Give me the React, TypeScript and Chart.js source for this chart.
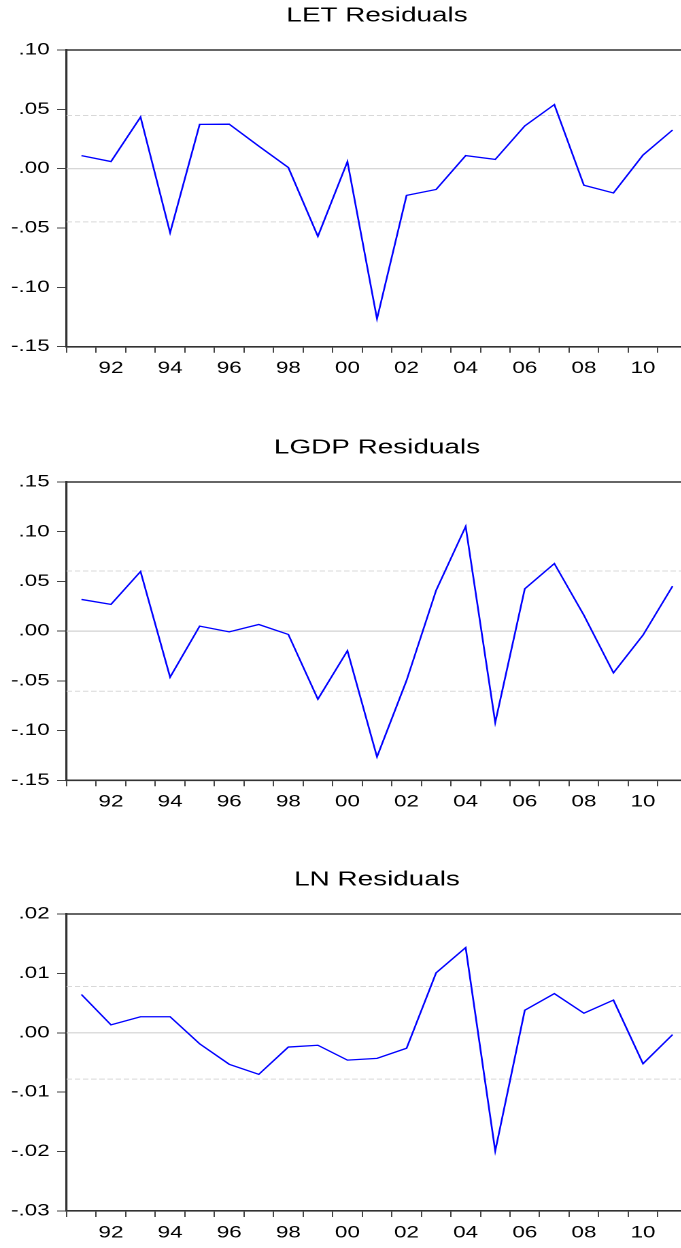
import React, { useEffect, useRef } from 'react';
import { Chart, registerables } from 'chart.js';

Chart.register(...registerables);

// ---------- data ----------
const years = [
  '1991', '1992', '1993', '1994', '1995', '1996', '1997', '1998', '1999', '2000',
  '2001', '2002', '2003', '2004', '2005', '2006', '2007', '2008', '2009', '2010', '2011',
];
const xTickLabels = [
  '', '92', '', '94', '', '96', '', '98', '', '00',
  '', '02', '', '04', '', '06', '', '08', '', '10', '',
];

const letResiduals = [
  0.011, 0.006, 0.0435, -0.054, 0.0373, 0.0375, 0.019, 0.001, -0.057, 0.006,
  -0.1265, -0.0225, -0.0175, 0.011, 0.0078, 0.036, 0.054, -0.014, -0.0205, 0.0115, 0.0326,
];
const lgdpResiduals = [
  0.0319, 0.0269, 0.06, -0.0463, 0.005, -0.0007, 0.0067, -0.0033, -0.0684, -0.0197,
  -0.1264, -0.0496, 0.041, 0.1053, -0.0919, 0.0426, 0.068, 0.016, -0.0419, -0.004, 0.0453,
];
const lnResiduals = [
  0.00644, 0.00134, 0.0027, 0.0027, -0.00185, -0.0053, -0.007, -0.0024, -0.0021, -0.0046,
  -0.0043, -0.0026, 0.0101, 0.01434, -0.0199, 0.0038, 0.0066, 0.0033, 0.0055, -0.0052, -0.0003,
];

const letYTicks = [-0.15, -0.1, -0.05, 0, 0.05, 0.1];
const lgdpYTicks = [-0.15, -0.1, -0.05, 0, 0.05, 0.1, 0.15];
const lnYTicks = [-0.03, -0.02, -0.01, 0, 0.01, 0.02];

// +/- one standard-error reference lines
const letBand = 0.0448;
const lgdpBand = 0.0605;
const lnBand = 0.0078;

const titles = ['LET Residuals', 'LGDP Residuals', 'LN Residuals'];

// ---------- layout ----------
const SX = 1.36; // horizontal stretch of the original picture
const CW = 510; // logical canvas width
const CH = 390; // logical canvas height
const LEFT = 49; // plot left (logical)
const RIGHT = 505.4; // plot right (logical)
const TOP_PAD = 50;
const XAXIS_H = 40;
const FONT = '"Liberation Sans", Arial, Helvetica, sans-serif';

const fmt = (v: number) => {
  if (Math.abs(v) < 1e-9) return '.00';
  const s = Number(v).toFixed(2);
  return s.replace('0.', '.');
};

type PanelProps = {
  top: number;
  plotH: number;
  title: string;
  values: number[];
  yTicks: number[];
  band: number;
};

function Panel({ top, plotH, title, values, yTicks, band }: PanelProps) {
  const ref = useRef<HTMLCanvasElement | null>(null);

  useEffect(() => {
    if (!ref.current) return;
    const min = yTicks[0];
    const max = yTicks[yTicks.length - 1];
    const step = yTicks[1] - yTicks[0];

    const decor = {
      id: 'decor',
      beforeDatasetsDraw(chart: any) {
        const { ctx, chartArea } = chart;
        const ys = chart.scales.y;
        ctx.save();
        // zero line
        ctx.strokeStyle = '#d2d2d2';
        ctx.lineWidth = 1.2;
        const y0 = ys.getPixelForValue(0);
        ctx.beginPath();
        ctx.moveTo(chartArea.left, y0);
        ctx.lineTo(chartArea.right, y0);
        ctx.stroke();
        // band lines
        ctx.strokeStyle = '#d8d8d8';
        ctx.lineWidth = 1;
        ctx.setLineDash([4, 2]);
        [band, -band].forEach((b) => {
          const y = ys.getPixelForValue(b);
          ctx.beginPath();
          ctx.moveTo(chartArea.left, y);
          ctx.lineTo(chartArea.right, y);
          ctx.stroke();
        });
        ctx.restore();
      },
      afterDraw(chart: any) {
        const { ctx, chartArea } = chart;
        ctx.save();
        ctx.strokeStyle = '#333';
        ctx.lineWidth = 1.6;
        ctx.beginPath();
        ctx.moveTo(chartArea.left, chartArea.top);
        ctx.lineTo(chartArea.right, chartArea.top);
        ctx.lineTo(chartArea.right, chartArea.bottom);
        ctx.stroke();
        ctx.fillStyle = '#000';
        ctx.font = `20.5px ${FONT}`;
        ctx.textAlign = 'center';
        ctx.textBaseline = 'alphabetic';
        ctx.fillText(title, (chartArea.left + chartArea.right) / 2, chartArea.top - 28.5);
        ctx.restore();
      },
    };

    const chart = new Chart(ref.current, {
      type: 'line',
      data: {
        labels: years,
        datasets: [
          {
            data: values,
            borderColor: '#0000ff',
            borderWidth: 1.3,
            pointRadius: 0,
            tension: 0,
            fill: false,
          },
        ],
      },
      options: {
        animation: false,
        responsive: false,
        devicePixelRatio: 2,
        layout: {
          padding: {
            top: TOP_PAD,
            left: 0,
            right: CW - RIGHT,
            bottom: CH - TOP_PAD - XAXIS_H - plotH,
          },
        },
        plugins: {
          legend: { display: false },
          tooltip: { enabled: false },
          title: { display: false },
        },
        scales: {
          x: {
            type: 'category',
            offset: true,
            grid: {
              offset: true,
              drawOnChartArea: false,
              drawTicks: true,
              tickLength: 6,
              color: '#444',
              lineWidth: 1,
            },
            border: { color: '#333', width: 1.6 },
            ticks: {
              autoSkip: false,
              maxRotation: 0,
              minRotation: 0,
              padding: 6,
              color: '#000',
              font: { family: FONT, size: 16.5 },
              callback: (_v: any, i: number) => xTickLabels[i],
            },
            afterFit: (s: any) => {
              s.height = XAXIS_H;
            },
          },
          y: {
            type: 'linear',
            min,
            max,
            grid: {
              drawOnChartArea: false,
              drawTicks: true,
              tickLength: 7,
              color: '#444',
              lineWidth: 1,
            },
            border: { color: '#333', width: 1.6 },
            ticks: {
              stepSize: step,
              padding: 5.5,
              color: '#000',
              font: { family: FONT, size: 16.5 },
              callback: (v: any) => fmt(Number(v)),
            },
            afterFit: (s: any) => {
              s.width = LEFT;
            },
          },
        },
      },
      plugins: [decor],
    } as any);

    return () => chart.destroy();
  }, []);

  return (
    <div
      style={{
        position: 'absolute',
        left: 0,
        top: top - TOP_PAD,
        width: CW,
        height: CH,
        transform: `scaleX(${SX})`,
        transformOrigin: '0 0',
      }}
    >
      <canvas ref={ref} width={CW} height={CH} style={{ display: 'block' }} />
    </div>
  );
}

export default function App() {
  return (
    <div
      style={{
        position: 'absolute',
        left: 0,
        top: 0,
        width: 681,
        height: 1248,
        overflow: 'hidden',
        background: '#fff',
      }}
    >
      <Panel top={50} plotH={296.7} title={titles[0]} values={letResiduals} yTicks={letYTicks} band={letBand} />
      <Panel top={481.7} plotH={298.3} title={titles[1]} values={lgdpResiduals} yTicks={lgdpYTicks} band={lgdpBand} />
      <Panel top={914} plotH={297} title={titles[2]} values={lnResiduals} yTicks={lnYTicks} band={lnBand} />
    </div>
  );
}
